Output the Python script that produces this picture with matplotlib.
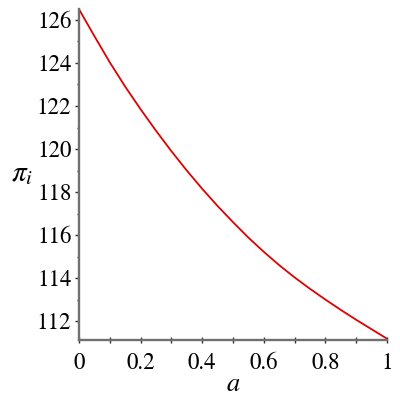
import numpy as np
from matplotlib import pyplot as plt
from matplotlib.ticker import MultipleLocator

a_vals = [0.0, 0.05, 0.1, 0.15, 0.2, 0.25, 0.3, 0.35, 0.4, 0.45, 0.5,
          0.55, 0.6, 0.65, 0.7, 0.75, 0.8, 0.85, 0.9, 0.95, 1.0]
pi_vals = [126.5, 125.25, 124.03, 122.9, 121.85, 120.85, 119.9, 119.0, 118.15, 117.35, 116.6,
           115.88, 115.22, 114.6, 114.03, 113.5, 113.0, 112.52, 112.06, 111.62, 111.18]

# Times-like look of the original: STIX ships with matplotlib
plt.rcParams['font.family'] = 'serif'
plt.rcParams['font.serif'] = ['STIXGeneral', 'DejaVu Serif']
plt.rcParams['mathtext.fontset'] = 'stix'

fig = plt.figure(figsize=(4, 4), dpi=100)
ax = fig.add_axes([0.1975, 0.15, 0.77, 0.8275])

ax.plot(a_vals, pi_vals, color='#e00000', lw=1.3, solid_joinstyle='round')

ax.set_xlim(0, 1)
ax.set_ylim(111.12, 126.51)
ax.xaxis.set_minor_locator(MultipleLocator(0.1))
ax.yaxis.set_major_locator(MultipleLocator(2))
ax.yaxis.set_minor_locator(MultipleLocator(1))
ax.set_xticks([0, 0.2, 0.4, 0.6, 0.8, 1])
ax.set_xticklabels(['0', '0.2', '0.4', '0.6', '0.8', '1'])

for s in ['top', 'right']:
    ax.spines[s].set_visible(False)
for s in ['left', 'bottom']:
    ax.spines[s].set_color('#707070')
    ax.spines[s].set_linewidth(1.7)

ax.tick_params(which='both', color='#303030', width=1, labelsize=16.5)
ax.tick_params(axis='x', which='both', direction='inout', length=4, pad=7)
ax.tick_params(axis='y', which='major', direction='out', length=3, pad=2.5)
ax.tick_params(axis='y', which='minor', direction='out', length=1.8)

ax.set_xlabel('$a$', fontsize=19, va='center')
ax.xaxis.set_label_coords(0.5, -0.135)
ax.set_ylabel('$\\pi_i$', fontsize=21, rotation=0, va='center', ha='center')
ax.yaxis.set_label_coords(-0.185, 0.5)

fig.savefig('out.png', dpi=100)
